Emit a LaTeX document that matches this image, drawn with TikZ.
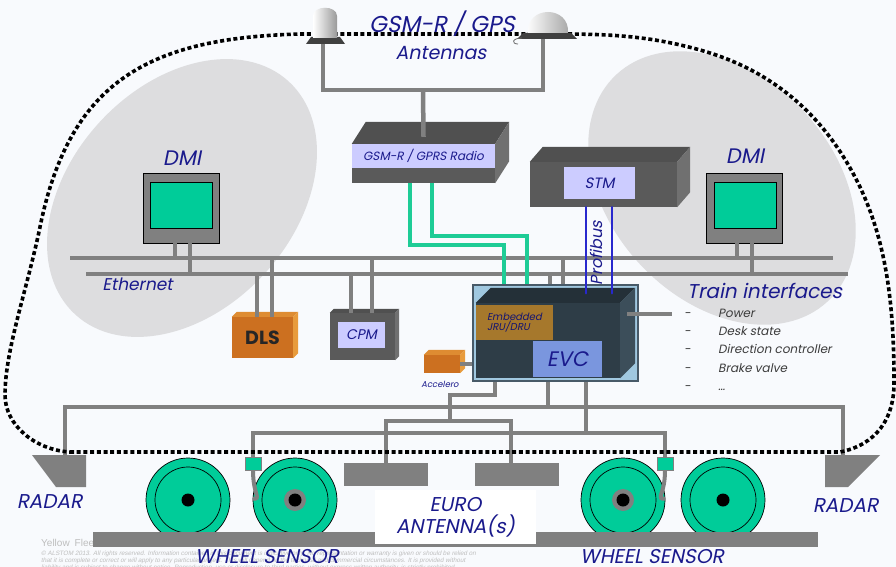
\documentclass[tikz,border=0pt]{standalone}
\usepackage{fontspec}
\setmainfont{Poppins}[AutoFakeSlant=0.2]
\newfontfamily\notefont{Liberation Sans}[AutoFakeSlant=0.2]
\usetikzlibrary{positioning,calc}

\definecolor{etcsnavy}{RGB}{26,26,140}
\definecolor{cablegrey}{RGB}{128,128,128}
\definecolor{blobgrey}{RGB}{221,221,223}
\definecolor{paper}{RGB}{248,250,253}
\definecolor{screengreen}{RGB}{0,204,153}
\definecolor{linkgreen}{RGB}{30,204,150}
\definecolor{taglilac}{RGB}{204,204,255}
\definecolor{unitgrey}{RGB}{90,90,90}
\definecolor{unittop}{RGB}{80,80,80}
\definecolor{unitside}{RGB}{112,112,112}
\definecolor{dlsorange}{RGB}{204,112,32}
\definecolor{dlstop}{RGB}{222,140,50}
\definecolor{dlsside}{RGB}{232,155,60}
\definecolor{evcframe}{RGB}{160,200,224}
\definecolor{evcedge}{RGB}{72,90,104}
\definecolor{evcfront}{RGB}{46,61,71}
\definecolor{evctop}{RGB}{36,48,56}
\definecolor{evcside}{RGB}{60,78,90}
\definecolor{jrubrown}{RGB}{166,120,44}
\definecolor{evcblue}{RGB}{122,150,222}
\definecolor{profiblue}{RGB}{40,40,205}
\definecolor{itemgrey}{RGB}{60,60,60}
\definecolor{notegrey}{RGB}{190,190,190}

\newcommand{\tsz}[1]{\fontsize{#1}{#1}\selectfont}
% top and side faces of a block, hung on its front-face node
\newcommand{\boxfaces}[5]{%
  \fill[#4] (#1.north west) -- ++(#2,-#3) -- ([shift={(#2,-#3)}]#1.north east) -- (#1.north east) -- cycle;
  \fill[#5] (#1.north east) -- ([shift={(#2,-#3)}]#1.north east) -- ([shift={(#2,-#3)}]#1.south east) -- (#1.south east) -- cycle;}

\begin{document}
\begin{tikzpicture}[x=1pt,y=-1pt,
  lbl/.style={inner sep=0pt,text=etcsnavy,font=\tsz{#1}\itshape},
  tag/.style={rectangle,inner sep=0pt,fill=taglilac,text=etcsnavy,font=\tsz{#1}\itshape},
  unit/.style={rectangle,inner sep=0pt,fill=#1},
  cable/.style={draw=cablegrey,line width=4.5pt},
  radiolink/.style={draw=linkgreen,line width=4pt},
  fieldbus/.style={draw=profiblue,line width=2.6pt,line cap=round},
  trainline/.style={line width=3.6pt,dash pattern=on 4pt off 2.7pt},
  monitor/.style={rectangle,inner sep=0pt,draw=black,line width=0.9pt,fill=cablegrey,minimum width=76pt,minimum height=70pt},
  screen/.style={rectangle,inner sep=0pt,draw=black,line width=0.9pt,fill=screengreen,minimum width=62pt,minimum height=46pt},
  wheel/.style={circle,inner sep=0pt,draw=black,line width=0.7pt,fill=screengreen,minimum size=84pt},
  sensor/.style={rectangle,inner sep=0pt,draw=black!50,line width=0.5pt,fill=screengreen,minimum width=16pt,minimum height=13pt},
  item/.style={inner sep=0pt,anchor=base west,text=itemgrey,font=\tsz{12}\itshape}]

  \fill[paper] (0,0) rectangle (896,567);
  \useasboundingbox (0,0) rectangle (896,567);

  % cab zones
  \fill[blobgrey,rotate around={47.5:(182,198)}] (182,198) ellipse [x radius=158,y radius=112];
  \fill[blobgrey,rotate around={-47:(722,188)}] (722,188) ellipse [x radius=155,y radius=112];

  % footer
  \node[anchor=base west,inner sep=0pt,text=notegrey,font=\notefont\tsz{10}] (fleetNote) at (41,546) {Yellow\enspace Fleet};
  \node[anchor=base west,inner sep=0pt,text=notegrey,font=\notefont\tsz{6.3}\itshape] (noteA) at (41,555) {\textcopyright\ ALSTOM 2013. All rights reserved. Information contained in this document is indicative only. No representation or warranty is given or should be relied on};
  \node[anchor=base west,inner sep=0pt,text=notegrey,font=\notefont\tsz{6.3}\itshape] (noteB) at (41,562) {that it is complete or correct or will apply to any particular project. This will depend on the technical and commercial circumstances. It is provided without};
  \node[anchor=base west,inner sep=0pt,text=notegrey,font=\notefont\tsz{6.3}\itshape] (noteC) at (41,569) {liability and is subject to change without notice. Reproduction, use or disclosure to third parties, without express written authority, is strictly prohibited.};

  % bogies
  \node[wheel] (wheelA) at (188,500) {};
  \node[wheel] (wheelB) at (295,500) {};
  \node[wheel] (wheelC) at (623,500) {};
  \node[wheel] (wheelD) at (723,500) {};
  \foreach \w in {wheelA,wheelB,wheelC,wheelD}
    \draw[line width=0.7pt] (\w) circle (33);
  \node[unit=cablegrey,minimum width=725pt,minimum height=15pt] (rail) at (455.5,539.5) {};
  \node[unit=white,minimum width=161pt,minimum height=54pt,align=center,text=etcsnavy,font=\fontsize{20}{22}\selectfont\itshape] (euroBox) at (455.5,517) {EURO\\ANTENNA(s)};
  \node[unit=cablegrey,minimum width=84pt,minimum height=23pt] (euroL) at (386,474.5) {};
  \node[unit=cablegrey,minimum width=84pt,minimum height=23pt] (euroR) at (517,474.5) {};
  \node[sensor] (wsL) at (253,463.5) {};
  \node[sensor] (wsR) at (665,464) {};

  % radars
  \fill[cablegrey] (32,455) -- (86,455) -- (86,487) -- (56,487) -- cycle;
  \fill[cablegrey] (880,455) -- (825,455) -- (825,487) -- (848,487) -- cycle;
  \coordinate (radarL) at (65,455);
  \coordinate (radarR) at (843,455);

  % DMIs
  \node[monitor] (dmiL) at (181,208) {};
  \node[screen] (scrL) at (181,205) {};
  \node[monitor] (dmiR) at (744.5,208) {};
  \node[screen] (scrR) at (745,205) {};

  % on-board units
  \node[unit=unitgrey,minimum width=143pt,minimum height=39pt] (gsm) at (423.5,163.5) {};
  \boxfaces{gsm}{14}{22}{unittop}{unitside}
  \node[tag=12,minimum width=143pt,minimum height=24pt,anchor=north] (gsmTag) at (gsm.north) {GSM-R / GPRS Radio};

  \node[unit=unitgrey,minimum width=147pt,minimum height=45pt] (stm) at (603.5,184.5) {};
  \boxfaces{stm}{13}{15}{unittop}{unitside}
  \node[tag=15,minimum width=71pt,minimum height=32pt] (stmTag) at (599.5,183) {STM};

  \node[unit=unitgrey,minimum width=65pt,minimum height=47pt] (cpm) at (362.5,336.5) {};
  \boxfaces{cpm}{4}{4}{unittop}{unitside}
  \node[tag=14,minimum width=47pt,minimum height=26pt] (cpmTag) at (361.5,335) {CPM};

  \node[unit=dlsorange,minimum width=61pt,minimum height=41pt,text=black!85,font=\tsz{19}\bfseries\itshape] (dls) at (262.5,337.5) {DLS};
  \boxfaces{dls}{5}{5}{dlstop}{dlsside}

  \node[unit=dlsorange,minimum width=36pt,minimum height=18pt] (accel) at (442,364) {};
  \boxfaces{accel}{5}{5}{dlstop}{dlsside}

  \node[unit=evcframe,draw=evcedge,line width=1.5pt,minimum width=165pt,minimum height=96pt] (evc) at (555.5,333) {};
  \node[unit=evcfront,minimum width=144pt,minimum height=75pt] (evcBody) at (548,340.5) {};
  \boxfaces{evcBody}{15}{15}{evctop}{evcside}
  \node[tag=10,fill=jrubrown,text=etcsnavy!80!black,minimum width=77pt,minimum height=35pt,align=left] (jru) at (514.5,322.5) {Embedded\\JRU/DRU};
  \node[tag=21,fill=evcblue,minimum width=69pt,minimum height=36pt] (evcTag) at (567.5,359) {EVC};

  % Ethernet
  \coordinate (busA-w) at (70,258);
  \coordinate (busA-e) at (833,258);
  \coordinate (busB-w) at (86,274);
  \coordinate (busB-e) at (848,274);
  \draw[cable] (busA-w) -- (busA-e);
  \draw[cable] (busB-w) -- (busB-e);
  \draw[cable] (175,0 |- dmiL.south) -- (175,0 |- busA-w);
  \draw[cable] (190,0 |- dmiL.south) -- (190,0 |- busB-w);
  \draw[cable] (737,0 |- dmiR.south) -- (737,0 |- busA-w);
  \draw[cable] (752,0 |- dmiR.south) -- (752,0 |- busB-w);
  \draw[cable] (257,0 |- dls.north) -- (257,0 |- busB-w);
  \draw[cable] (272,0 |- dls.north) -- (272,0 |- busA-w);
  \draw[cable] (351,0 |- cpm.north) -- (351,0 |- busB-w);
  \draw[cable] (372,0 |- cpm.north) -- (372,0 |- busA-w);
  \draw[cable] (550,0 |- evc.north) -- (550,0 |- busB-w);
  \draw[cable] (563,0 |- evc.north) -- (563,0 |- busA-w);

  % radio links
  \draw[radiolink] (410,0 |- gsm.south) |- (504,245) -- (504,0 |- evc.north);
  \draw[radiolink] (432,0 |- gsm.south) |- (527,236) -- (527,0 |- evc.north);

  % Profibus
  \draw[fieldbus] (586,0 |- stm.south) -- ($(586,0 |- evc.north)+(0,9)$);
  \draw[fieldbus] (612,0 |- stm.south) -- ($(612,0 |- evc.north)+(0,9)$);
  \node[lbl=16,rotate=90,anchor=base] (profLbl) at (602,253) {Profibus};

  % train interfaces and accelerometer
  \coordinate (tiPort) at (672,314);
  \draw[cable] ($(tiPort -| evcBody.east)+(7,0)$) -- (tiPort);
  \draw[cable] (accel.east) -- (accel.east -| evc.west);

  % track side links
  \coordinate (radarJoin) at (548,407);
  \coordinate (euroJoin) at (450,421);
  \coordinate (wsJoin) at (586,433);
  \draw[cable] (548,0 |- evc.south) -- (radarJoin);
  \draw[cable] (radarL) |- (radarJoin) -| (radarR);
  \draw[cable] (495,0 |- evc.south) |- (450,395) -- (euroJoin);
  \draw[cable] (euroL.north) |- (euroJoin) -| (511,0 |- euroR.north);
  \draw[cable] (586,0 |- evc.south) -- (wsJoin);
  \draw[cable] (wsL.north) |- (wsJoin) -| (wsR.north);
  \draw[cable,line width=4pt] (wsL.south) .. controls (253,495) and (262,499) .. (wheelB);
  \draw[cable,line width=4pt] (wsR.south) .. controls (665,495) and (655,499) .. (wheelC);
  \fill[cablegrey] (wheelB) circle (11);
  \fill[cablegrey] (wheelC) circle (11);
  \foreach \w in {wheelA,wheelB,wheelC,wheelD}
    \fill[black] (\w) circle (6.5);

  % train outline
  \draw[trainline] (70,452) -- (840,452) .. controls (875,445) and (895,420) .. (894,380)
    .. controls (894,300) and (885,240) .. (860,187) .. controls (835,135) and (790,75) .. (700,50)
    .. controls (650,36) and (610,34) .. (560,34) -- (300,34)
    .. controls (150,38) and (70,80) .. (40,227) .. controls (27,290) and (5,350) .. (5,395)
    .. controls (5,425) and (35,450) .. (70,452);

  % GSM-R / GPS antennas
  \fill[black!75] (306,44) -- (311,37) -- (340,37) -- (345,44) -- cycle;
  \shade[left color=white,right color=black!40] (313,38) -- (313,16) .. controls (313,5) and (337,5) .. (337,16) -- (337,38) -- cycle;
  \fill[black!75] (517,39) -- (523,33) -- (571,33) -- (577,39) -- cycle;
  \shade[left color=white,right color=black!35] (528,33) .. controls (526,5) and (570,5) .. (568,33) -- cycle;
  \draw[black!60,line width=0.8pt] (522,38) .. controls (512,38) and (511,44) .. (518,44);
  \coordinate (antL) at (323,44);
  \coordinate (antR) at (543,39);
  \coordinate (antJoin) at (423,90);
  \draw[cable] (antL) |- (antJoin) -| (antR);
  \draw[cable] (antJoin) -- ($(gsm.north)+(0,-7)$);

  % labels
  \node[lbl=23,anchor=base] (gpsLbl) at (442,33) {GSM-R / GPS};
  \node[lbl=19,anchor=base] (antLbl) at (441,60) {Antennas};
  \node[lbl=21,anchor=base] (dmiLLbl) at (182,165) {DMI};
  \node[lbl=21,anchor=base] (dmiRLbl) at (745,163) {DMI};
  \node[lbl=17,anchor=base] (ethLbl) at (137.5,290) {Ethernet};
  \node[lbl=8.5,anchor=base] (accelLbl) at (440,387) {Accelero};
  \node[lbl=20,anchor=base west] (tiTitle) at (687,298) {Train interfaces};
  \foreach \y/\txt [count=\i] in {317/Power,335/Desk state,353/Direction controller,372/Brake valve,390/\ldots}{
    \node[item] (tiDash\i) at (684,\y) {-};
    \node[item] (tiItem\i) at (718,\y) {\txt};
  }
  \node[lbl=20,anchor=base] (radarLLbl) at (49.5,508) {RADAR};
  \node[lbl=20,anchor=base] (radarRLbl) at (845.5,512) {RADAR};
  \node[lbl=20,anchor=base] (wsLLbl) at (267,563) {WHEEL SENSOR};
  \node[lbl=20,anchor=base] (wsRLbl) at (652,563) {WHEEL SENSOR};
\end{tikzpicture}
\end{document}
